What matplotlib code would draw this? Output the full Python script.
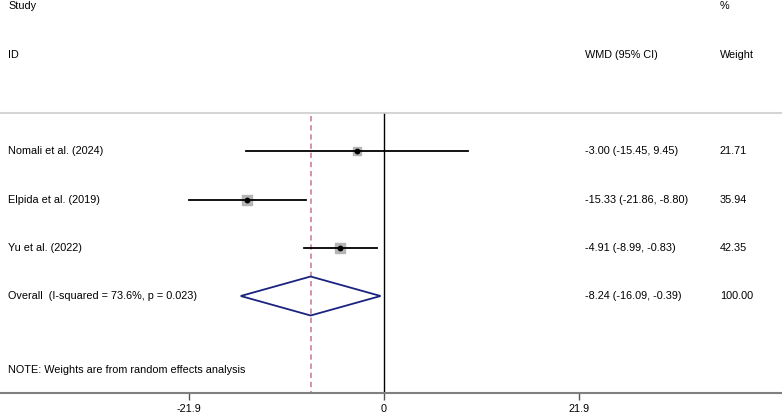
import matplotlib
matplotlib.use("Agg")
import matplotlib.pyplot as plt
import numpy as np

plt.rcParams['font.family'] = ['Liberation Sans', 'DejaVu Sans']

studies = ["Nomali et al. (2024)", "Elpida et al. (2019)", "Yu et al. (2022)"]
wmd = [-3.00, -15.33, -4.91]
lo = [-15.45, -21.86, -8.99]
hi = [9.45, -8.80, -0.83]
weights = [21.71, 35.94, 42.35]
overall_label = "Overall  (I-squared = 73.6%, p = 0.023)"
overall = -8.24
overall_lo = -16.09
overall_hi = -0.39
overall_weight = 100.00
tick_vals = [-21.9, 0, 21.9]
tick_labels = ["-21.9", "0", "21.9"]
note = "NOTE: Weights are from random effects analysis"

W, H = 782, 416
fig = plt.figure(figsize=(W/100, H/100), dpi=100)
axis_y = 393
ax = fig.add_axes([0, (H - axis_y)/H, 1, axis_y/H])
pxu = 390/43.8
zero_px = 384
ax.set_xlim(-zero_px/pxu, (W - zero_px)/pxu)
ax.set_ylim(axis_y, 0)

for s in ['top', 'right', 'left']:
    ax.spines[s].set_visible(False)
ax.spines['bottom'].set_color('#808080')
ax.spines['bottom'].set_linewidth(1.5)
ax.set_yticks([])
ax.set_xticks(tick_vals)
fs = 7.8
ax.set_xticklabels(tick_labels, fontsize=fs)
ax.tick_params(axis='x', length=5, width=1, color='#555555', pad=3)

top_line = 113
ax.axhline(top_line, color='#d4d4d4', lw=1.5)
ax.plot([0, 0], [top_line + 1, axis_y], color='black', lw=1)
ax.plot([overall, overall], [top_line + 3, axis_y], color='#c8788a', lw=1.1, ls=(0, (3.5, 2.5)))

row_y = [151, 200, 248]
tr = ax.get_yaxis_transform()
for y, name, m, l, h, w in zip(row_y, studies, wmd, lo, hi, weights):
    ax.plot([l, h], [y, y], color='black', lw=1.3, zorder=3)
    ax.plot([m], [y], marker='s', ms=1.12*np.sqrt(w), color='#b5b5b5', mec='#b5b5b5', zorder=2)
    ax.plot([m], [y], marker='o', ms=3.2, color='black', zorder=4)
    ax.text(8/W, y, name, transform=tr, fontsize=fs, va='center', ha='left')
    ax.text(585/W, y, f"{m:.2f} ({l:.2f}, {h:.2f})", transform=tr, fontsize=fs, va='center', ha='left')
    ax.text(720/W, y, f"{w:.2f}", transform=tr, fontsize=fs, va='center', ha='left')

oy = 296
dh = 19.5
ax.fill([overall_lo, overall, overall_hi, overall], [oy, oy - dh, oy, oy + dh],
        facecolor='none', edgecolor='#1a237e', lw=1.3, zorder=3)
ax.text(8/W, oy, overall_label, transform=tr, fontsize=fs, va='center', ha='left')
ax.text(585/W, oy, f"{overall:.2f} ({overall_lo:.2f}, {overall_hi:.2f})", transform=tr, fontsize=fs, va='center', ha='left')
ax.text(720/W, oy, f"{overall_weight:.2f}", transform=tr, fontsize=fs, va='center', ha='left')

ax.text(8/W, 6, "Study", transform=tr, fontsize=fs, va='center', ha='left')
ax.text(720/W, 6, "%", transform=tr, fontsize=fs, va='center', ha='left')
ax.text(8/W, 55, "ID", transform=tr, fontsize=fs, va='center', ha='left')
ax.text(585/W, 55, "WMD (95% CI)", transform=tr, fontsize=fs, va='center', ha='left')
ax.text(720/W, 55, "Weight", transform=tr, fontsize=fs, va='center', ha='left')
ax.text(8/W, 370, note, transform=tr, fontsize=fs, va='center', ha='left')

fig.savefig("out.png", dpi=100)
